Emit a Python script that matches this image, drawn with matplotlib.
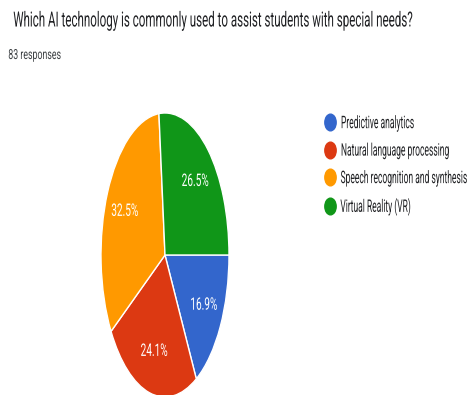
import matplotlib
matplotlib.use("Agg")
import matplotlib.pyplot as plt
from matplotlib.lines import Line2D
from matplotlib.path import Path
from matplotlib.patheffects import AbstractPathEffect
from matplotlib.transforms import Affine2D

plt.rcParams['font.family'] = ['Roboto', 'DejaVu Sans']

# Respuestas del formulario (83 en total)
categories = ["Predictive analytics", "Natural language processing",
              "Speech recognition and synthesis", "Virtual Reality (VR)"]
counts = [14, 20, 27, 22]
colors = ["#3366CC", "#DC3912", "#FF9900", "#109618"]
title = "Which AI technology is commonly used to assist students with special needs?"
subtitle = "83 responses"


class Squeeze(AbstractPathEffect):
    """Estrecha el texto en horizontal (la captura original está deformada)."""

    def __init__(self, sx, anchor="left"):
        super().__init__()
        self.sx = sx
        self.anchor = anchor

    def draw_path(self, renderer, gc, tpath, affine, rgbFace=None):
        ext = tpath.get_extents()
        cx = ext.x0 if self.anchor == "left" else (ext.x0 + ext.x1) / 2
        sq = Affine2D().translate(-cx, 0).scale(self.sx, 1).translate(cx, 0)
        renderer.draw_path(gc, tpath, sq + affine, rgbFace)


def squeeze_to(txt, target_px, renderer, anchor="left"):
    w = txt.get_window_extent(renderer).width
    txt.set_path_effects([Squeeze(target_px / w, anchor)])


W, H = 467, 395
fig = plt.figure(figsize=(W / 100, H / 100), dpi=100)

# pie estirado verticalmente como en la captura
ax = fig.add_axes([101 / W, (H - 397) / H, 128 / W, 284 / H])
wedges, texts, autotexts = ax.pie(
    counts, colors=colors, startangle=0, counterclock=False,
    autopct="%1.1f%%", pctdistance=0.7,
    wedgeprops=dict(edgecolor="white", linewidth=1),
    textprops=dict(color="white", fontsize=12.5),
)
ax.set_aspect("auto")
ax.set_xlim(-1, 1)
ax.set_ylim(-1, 1)
ax.axis("off")

t_title = fig.text(13 / W, 1 - 21 / H, title, fontsize=15, color="#202124",
                   va="center", ha="left")
t_sub = fig.text(8 / W, 1 - 55 / H, subtitle, fontsize=10, color="#3c4043",
                 va="center", ha="left")

ell = Path.unit_circle().transformed(Affine2D().scale(0.68, 1))
handles = [Line2D([], [], marker=ell, linestyle="", markersize=12,
                  markerfacecolor=c, markeredgecolor=c) for c in colors]
leg = fig.legend(handles, categories, loc="upper left",
                 bbox_to_anchor=(322 / W, 1 - 116 / H), frameon=False,
                 fontsize=12.5, labelspacing=0.71, handletextpad=0.15,
                 handlelength=0.9, borderaxespad=0, borderpad=0,
                 labelcolor="#202124")

fig.canvas.draw()
r = fig.canvas.get_renderer()
squeeze_to(t_title, 400, r)
squeeze_to(t_sub, 53, r)
sx_leg = 73 / leg.get_texts()[0].get_window_extent(r).width
for t in leg.get_texts():
    t.set_path_effects([Squeeze(sx_leg)])
for t in autotexts:
    squeeze_to(t, 27, r, anchor="center")

fig.savefig("out.png", dpi=100, facecolor="white")
